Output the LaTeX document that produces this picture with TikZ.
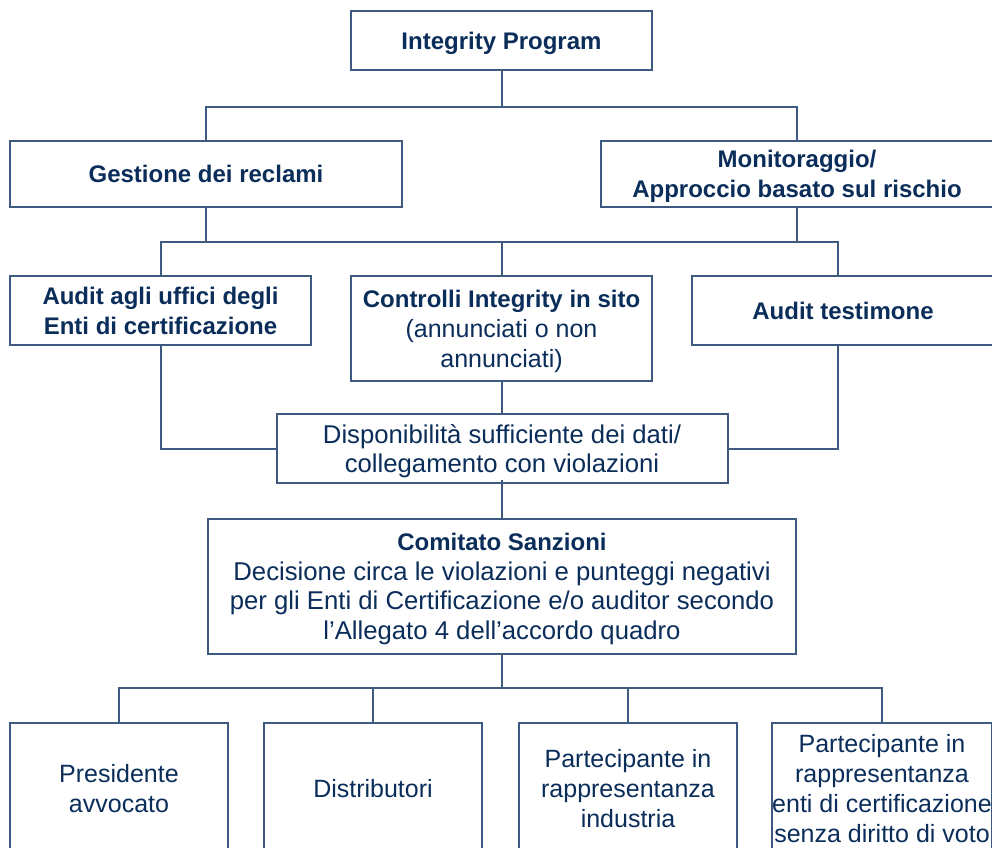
\documentclass[tikz,border=0pt]{standalone}
\usepackage{fontspec}
\setmainfont{Liberation Sans}
\definecolor{linec}{RGB}{62,90,128}
\definecolor{textc}{RGB}{10,45,90}
\newcommand\hb[1]{{\fontsize{24}{30}\selectfont\bfseries #1}}
\tikzset{
  box/.style={draw=linec, line width=2pt, fill=white, text=textc, align=center,
    inner sep=0pt, text depth=0pt, font=\fontsize{25}{30}\selectfont},
  conn/.style={draw=linec, line width=2pt}
}
\begin{document}
\begin{tikzpicture}[x=1pt,y=-1pt]
\useasboundingbox (0,0) rectangle (992,847);
\clip (0,0) rectangle (992,847);
\fill[white] (0,0) rectangle (992,847);
% coordinates for bars
\coordinate (b1) at (501.5,107);
\coordinate (b2) at (501.5,242);
\coordinate (b3) at (502,688);
\coordinate (tx) at (838,0);
% nodes
\node[box, minimum width=301pt, minimum height=59pt] (ip) at (501.5,40.5) {\hb{Integrity Program}};
\node[box, minimum width=392pt, minimum height=66pt] (gest) at (206,174) {\hb{Gestione dei reclami}};
\node[box, minimum width=392pt, minimum height=66pt] (mon) at (797,174) {\hb{Monitoraggio/}\\\hb{Approccio basato sul rischio}};
\node[box, minimum width=301pt, minimum height=69pt] (aud) at (160.5,310.5) {\hb{Audit agli uffici degli}\\\hb{Enti di certificazione}};
\node[box, minimum width=301pt, minimum height=105pt] (ctrl) at (501.5,328.5) {\hb{Controlli Integrity in sito}\\(annunciati o non\\annunciati)};
\node[box, minimum width=302pt, minimum height=69pt] (test) at (843,310.5) {\hb{Audit testimone}};
\node[box, minimum width=451pt, minimum height=69pt, font=\fontsize{25.7}{29}\selectfont] (disp) at (502,448.5) {Disponibilità sufficiente dei dati/\\collegamento con violazioni};
\node[box, minimum width=588pt, minimum height=135pt, font=\fontsize{25.7}{29.5}\selectfont] (com) at (502,586.5) {\hb{Comitato Sanzioni}\\Decisione circa le violazioni e punteggi negativi\\per gli Enti di Certificazione e/o auditor secondo\\l’Allegato 4 dell’accordo quadro};
\node[box, minimum width=218pt, minimum height=130pt] (p1) at (119,788) {Presidente\\avvocato};
\node[box, minimum width=218pt, minimum height=130pt] (p2) at (373,788) {Distributori};
\node[box, minimum width=218pt, minimum height=130pt] (p3) at (628,788) {Partecipante in\\rappresentanza\\industria};
\node[box, minimum width=218pt, minimum height=130pt] (p4) at (882,788) {Partecipante in\\rappresentanza\\enti di certificazione\\senza diritto di voto};
% connectors
\draw[conn] (ip.south) -- (b1);
\draw[conn] (gest.north) |- (b1) -| (mon.north);
\draw[conn] (gest.south) -- (gest.south |- b2);
\draw[conn] (mon.south) -- (mon.south |- b2);
\draw[conn] (aud.north) -- (aud.north |- b2) -- (tx |- b2) -- (tx |- test.north);
\draw[conn] (b2) -- (ctrl.north);
\draw[conn] (aud.south) |- (disp.west);
\draw[conn] (tx |- test.south) |- (disp.east);
\draw[conn] (ctrl.south) -- (ctrl.south |- disp.north);
\draw[conn] ([yshift=4pt]disp.south) -- (com.north);
\draw[conn] (com.south) -- (b3);
\draw[conn] (p1.north) |- (b3) -| (p4.north);
\draw[conn] (p2.north) -- (p2.north |- b3);
\draw[conn] (p3.north) -- (p3.north |- b3);
\end{tikzpicture}
\end{document}
